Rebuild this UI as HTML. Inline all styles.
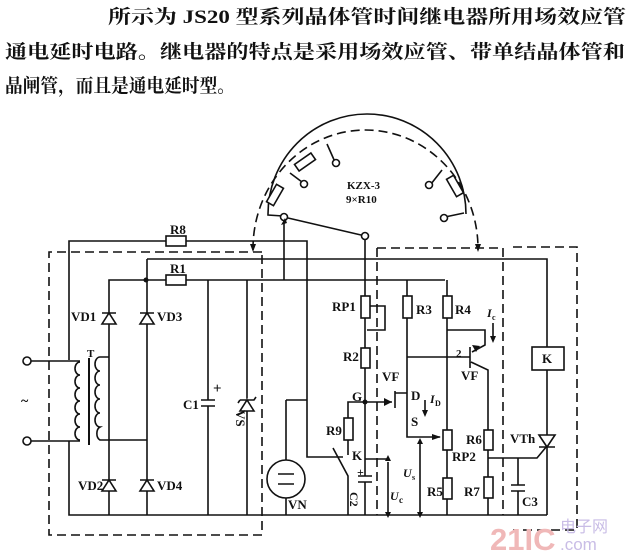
<!DOCTYPE html>
<html><head><meta charset="utf-8"><style>
html,body{margin:0;padding:0;background:#fff;}
svg{display:block;}
text{font-family:"Liberation Serif","Noto Serif CJK SC",serif;fill:#111;}
.c{font-family:"Liberation Sans","Noto Sans CJK SC",sans-serif;font-weight:bold;}
</style></head><body>
<svg width="631" height="557" viewBox="0 0 631 557" xmlns="http://www.w3.org/2000/svg">
<g class="c">
<text x="108" y="23" font-size="19" textLength="518" lengthAdjust="spacingAndGlyphs">所示为 JS20 型系列晶体管时间继电器所用场效应管</text>
<text x="5" y="58" font-size="19" textLength="620" lengthAdjust="spacingAndGlyphs">通电延时电路。继电器的特点是采用场效应管、带单结晶体管和</text>
<text x="5" y="92" font-size="19" textLength="230" lengthAdjust="spacingAndGlyphs">晶闸管，而且是通电延时型。</text>
</g>
<g fill="none" stroke="#111" stroke-width="1.6">
<g stroke-dasharray="9,5">
<path d="M262,252 H49 V535 H262 V252"/>
<path d="M377,248 H503 V515 M377,248 V515"/>
<path d="M513,247 H577 V530 H513"/>
<path d="M253,250 A112,118 0 0 1 478,247"/>
</g>
<path d="M268,214 A99,100 0 0 1 466,214"/>
<path d="M268,214 L268,215 L283,216"/>
<rect x="-4" y="-10" width="8" height="20" transform="translate(275,195) rotate(30)" fill="#fff"/>
<rect x="-4" y="-10" width="8" height="20" transform="translate(305,162) rotate(55)" fill="#fff"/>
<rect x="-4" y="-10" width="8" height="20" transform="translate(455,186) rotate(-30)" fill="#fff"/>
<path d="M290,173 L302,182 M327,144 L335,162 M442,170 L431,184 M464,213 L445,217"/>
<circle cx="304" cy="184" r="3.5" fill="#fff"/><circle cx="336" cy="163" r="3.5" fill="#fff"/>
<circle cx="429" cy="185" r="3.5" fill="#fff"/><circle cx="444" cy="218" r="3.5" fill="#fff"/>
<circle cx="284" cy="217" r="3.5" fill="#fff"/><circle cx="365" cy="236" r="3.5" fill="#fff"/>
<path d="M288,218 L361,235"/>
<path d="M284,221 V280"/>
<path d="M69,360 V241 H307 V457 H343"/>
<rect x="166" y="236" width="20" height="10" fill="#fff"/>
<path d="M147,259 H547 V347"/>
<path d="M109,357 V280 H445"/>
<rect x="166" y="275" width="20" height="10" fill="#fff"/>
<path d="M147,259 V515"/>
<path d="M109,357 V515"/>
<path d="M69,441 V515 H547"/>
<circle cx="27" cy="361" r="4" fill="#fff"/><circle cx="27" cy="441" r="4" fill="#fff"/>
<path d="M31,361 H80 M31,441 H80"/>
<path d="M80,362 a5,6.5 0 0 0 0,13 a5,6.5 0 0 0 0,13 a5,6.5 0 0 0 0,13 a5,6.5 0 0 0 0,13 a5,6.5 0 0 0 0,13 a5,6.5 0 0 0 0,13"/>
<path d="M89,358 V445" stroke-width="2"/>
<path d="M109,357 H100 a5,7 0 0 0 0,14 a5,7 0 0 0 0,14 a5,7 0 0 0 0,14 a5,7 0 0 0 0,14 a5,7 0 0 0 0,14 a5,7 0 0 0 0,13 H147"/>
<g fill="#fff">
<path d="M102,324 L116,324 L109,313 Z M102,313 H116"/>
<path d="M140,324 L154,324 L147,313 Z M140,313 H154"/>
<path d="M102,491 L116,491 L109,480 Z M102,480 H116"/>
<path d="M140,491 L154,491 L147,480 Z M140,480 H154"/>
</g>
<path d="M208,280 V400 M208,406 V515 M201,400 H215 M201,406 H215"/>
<path d="M247,280 V515"/>
<path d="M240,411 L254,411 L247,400 Z M240,400 H254 L256,397 M240,400 L238,403" fill="#fff"/>
<path d="M286,400 H307 M286,400 V460 M286,498 V515"/>
<circle cx="286" cy="479" r="19"/>
<path d="M278,474 H294 M278,484 H294"/>
<path d="M333,448 L348,476 V515"/>
<path d="M365,240 V476 M365,482 V515"/>
<rect x="361" y="296" width="9" height="22" fill="#fff"/>
<path d="M370,306 H385 V330 H367"/>
<rect x="361" y="348" width="9" height="20" fill="#fff"/>
<path d="M358,476 H372 M358,482 H372"/>
<path d="M365,459 H388"/>
<path d="M365,402 H348 V455"/>
<rect x="344" y="418" width="9" height="22" fill="#fff"/>
<path d="M365,402 H392 M395,391 V408 M395,393 H407 M407,280 V437 H440"/>
<rect x="403" y="296" width="9" height="22" fill="#fff"/>
<path d="M447,280 V515"/>
<rect x="443" y="296" width="9" height="22" fill="#fff"/>
<rect x="443" y="430" width="9" height="20" fill="#fff"/>
<rect x="443" y="478" width="9" height="21" fill="#fff"/>
<path d="M407,357 H470 M470,347 V368 M447,330 H485 V345 L472,352 M471,362 L488,370 V515"/>
<rect x="484" y="430" width="9" height="20" fill="#fff"/>
<rect x="484" y="477" width="9" height="21" fill="#fff"/>
<path d="M488,458 H518 V485 M518,491 V515 M511,485 H525 M511,491 H525 M518,458 H537 L547,446"/>
<rect x="532" y="347" width="32" height="23" fill="#fff"/>
<path d="M547,370 V515"/>
<path d="M539,435 L555,435 L547,447 Z M539,447 H555" fill="#fff"/>
<path d="M388,462 V515 M420,440 V515 M493,323 V338 M425,400 V410"/>
</g>
<g fill="#111">
<circle cx="146" cy="280" r="2.5"/><circle cx="365" cy="402" r="2.5"/>
<path d="M384,398 L392,402 L384,406Z M432,434 L441,437 L432,440Z M472,345 L480,346 L476,352Z"/>
<path d="M385,461 L388,455 L391,461Z M385,512 L388,518 L391,512Z M417,444 L420,438 L423,444Z M417,512 L420,518 L423,512Z M490,336 L493,343 L496,336Z M422,410 L425,417 L428,410Z"/>
<path d="M250,244 L253,252 L256,244Z M475,244 L478,252 L481,244Z M287,223 L281,225 L285,218Z"/>
</g>
<g font-size="13" font-weight="bold">
<text x="170" y="234">R8</text><text x="170" y="273">R1</text>
<text x="71" y="321">VD1</text><text x="157" y="321">VD3</text>
<text x="78" y="490">VD2</text><text x="157" y="490">VD4</text>
<text x="87" y="357" font-size="11">T</text>
<text x="21" y="405" font-size="14">~</text>
<text x="183" y="409">C1</text><text x="213" y="393" font-size="15">+</text>
<text x="236" y="410" transform="rotate(90 236 410)" font-size="13">VS</text>
<text x="288" y="509">VN</text>
<text x="332" y="311">RP1</text><text x="343" y="361">R2</text>
<text x="352" y="401">G</text><text x="326" y="435">R9</text>
<text x="352" y="460">K</text><text x="357" y="476" font-size="12">+</text>
<text x="350" y="492" transform="rotate(90 350 492)" font-size="12">C2</text>
<text x="382" y="381">VF</text><text x="411" y="400">D</text>
<text x="430" y="403" font-style="italic" font-size="12">I</text><text x="435" y="406" font-size="8">D</text>
<text x="411" y="426">S</text>
<text x="403" y="477" font-style="italic" font-size="12">U</text><text x="412" y="480" font-size="8">s</text>
<text x="390" y="500" font-style="italic" font-size="12">U</text><text x="399" y="503" font-size="9">c</text>
<text x="416" y="314">R3</text><text x="455" y="314">R4</text>
<text x="487" y="317" font-style="italic" font-size="12">I</text><text x="492" y="320" font-size="8">c</text>
<text x="456" y="357" font-size="11">2</text><text x="461" y="380">VF</text>
<text x="466" y="444">R6</text><text x="452" y="461">RP2</text>
<text x="427" y="496">R5</text><text x="464" y="496">R7</text>
<text x="510" y="443">VTh</text><text x="522" y="506">C3</text>
<text x="542" y="363">K</text>
<text x="347" y="189" font-size="11">KZX-3</text><text x="346" y="203" font-size="11">9×R10</text>
</g>
<text x="490" y="550" font-size="31" font-weight="bold" style="font-family:'Liberation Sans',sans-serif;fill:#f0b8b8">21IC</text>
<text x="560" y="532" font-size="16" style="font-family:'Liberation Sans','Noto Sans CJK SC',sans-serif;fill:#c9bde6">电子网</text>
<text x="560" y="550" font-size="17" style="font-family:'Liberation Sans',sans-serif;fill:#c9bde6">.com</text>
</svg>
</body></html>
